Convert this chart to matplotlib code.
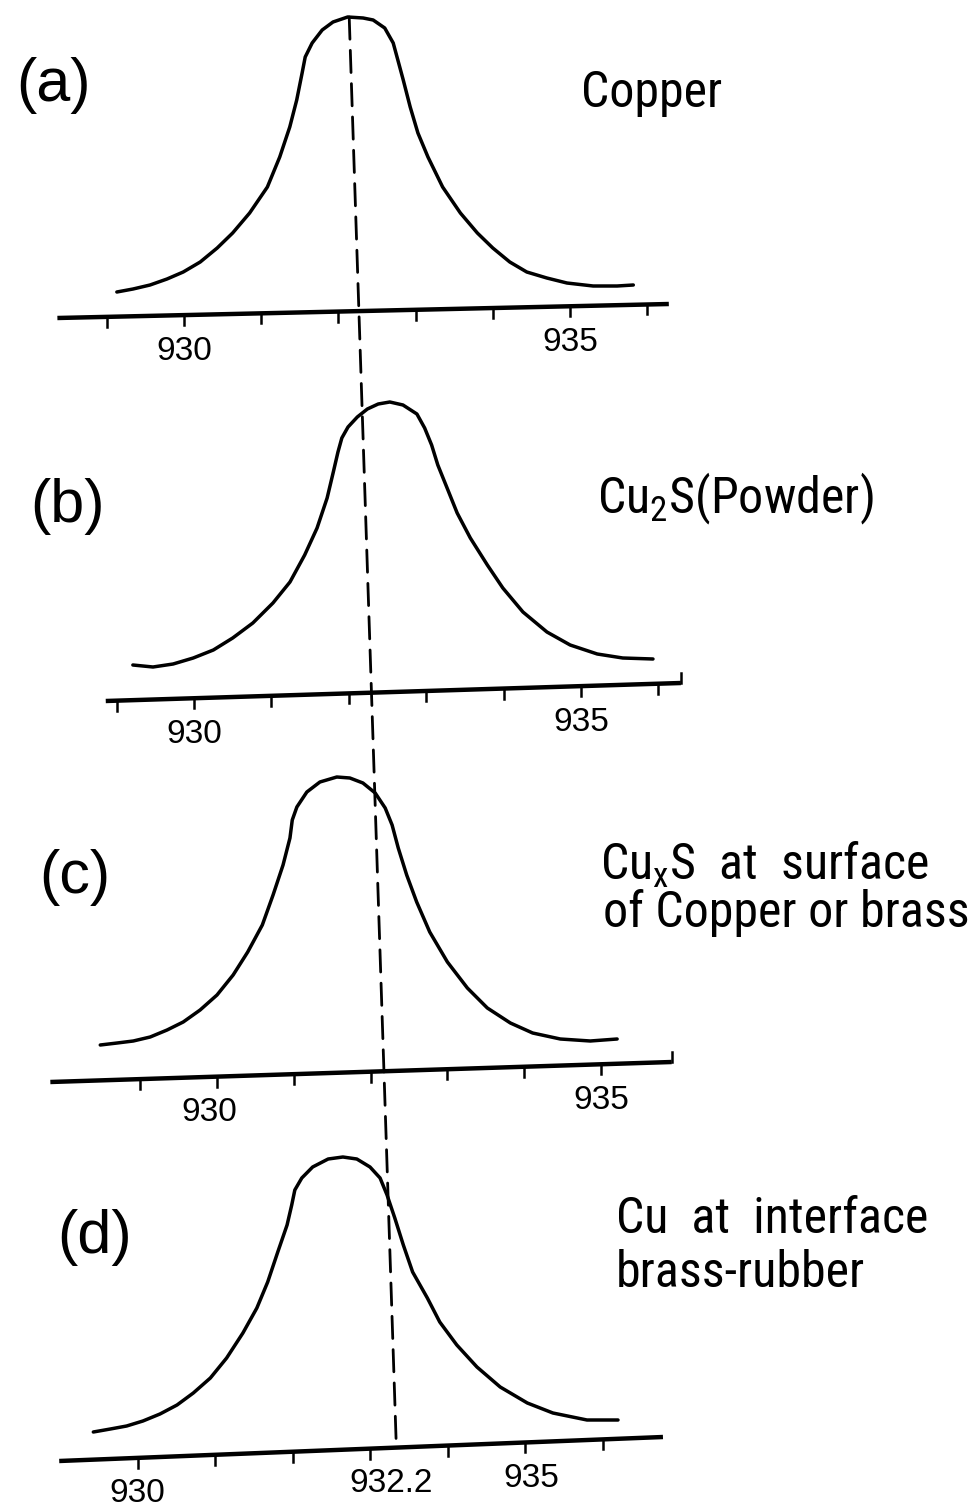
import numpy as np
import matplotlib
matplotlib.use('Agg')
import matplotlib.pyplot as plt
from matplotlib.patches import ConnectionPatch
from matplotlib import font_manager as fm

# Cu 2p3/2 peaks: binding energy (eV) and intensity (arb. units)
a_ev = [929.13, 929.34, 929.56, 929.78, 929.99, 930.21, 930.43, 930.63, 930.85, 931.08,
        931.24, 931.37, 931.46, 931.53, 931.57, 931.66, 931.79, 931.93, 932.12, 932.32,
        932.45, 932.60, 932.71, 932.77, 932.84, 932.93, 933.03, 933.16, 933.35, 933.58,
        933.80, 934.00, 934.22, 934.44, 934.70, 934.96, 935.30, 935.61, 935.82]
a_int = [88, 91, 95, 101, 108, 118, 132, 147, 167, 193,
         223, 253, 280, 307, 323, 337, 350, 358, 363, 362,
         360, 352, 337, 320, 300, 273, 247, 223, 193, 167,
         147, 132, 118, 108, 102, 97, 94, 94, 95]

b_ev = [929.21, 929.47, 929.73, 929.99, 930.25, 930.50, 930.76, 931.02, 931.24, 931.43,
        931.59, 931.72, 931.80, 931.86, 931.91, 931.99, 932.11, 932.24, 932.38, 932.53,
        932.70, 932.88, 932.98, 933.07, 933.15, 933.27, 933.40, 933.57, 933.79, 933.99,
        934.25, 934.56, 934.86, 935.21, 935.54, 935.93]
b_int = [95, 93, 96, 102, 110, 122, 137, 157, 178, 205,
         232, 262, 288, 308, 322, 333, 343, 351, 356, 358,
         355, 346, 332, 315, 295, 272, 247, 222, 195, 172,
         148, 128, 115, 106, 102, 101]

c_ev = [928.48, 928.70, 928.91, 929.13, 929.35, 929.56, 929.78, 930.00, 930.21, 930.40,
        930.59, 930.73, 930.86, 930.95, 930.98, 931.04, 931.17, 931.34, 931.56, 931.73,
        931.90, 932.06, 932.19, 932.28, 932.36, 932.47, 932.60, 932.77, 933.00, 933.26,
        933.52, 933.82, 934.11, 934.47, 934.86, 935.21]
c_int = [85, 87, 89, 93, 100, 108, 120, 135, 155, 178,
         205, 235, 265, 292, 310, 323, 338, 348, 353, 352,
         347, 337, 322, 305, 282, 255, 228, 198, 168, 142,
         122, 107, 97, 91, 89, 91]

d_ev = [929.43, 929.65, 929.86, 930.07, 930.29, 930.51, 930.72, 930.94, 931.15, 931.36,
        931.54, 931.68, 931.81, 931.93, 931.99, 932.03, 932.12, 932.26, 932.46, 932.65,
        932.83, 933.00, 933.13, 933.22, 933.32, 933.43, 933.55, 933.74, 933.90, 934.12,
        934.38, 934.68, 935.03, 935.36, 935.80, 936.20]
d_int = [77, 80, 83, 88, 95, 104, 116, 131, 151, 176,
         201, 227, 257, 284, 304, 319, 331, 342, 350, 352,
         350, 342, 331, 314, 291, 264, 237, 211, 187, 164,
         142, 122, 106, 96, 89, 89]

panel_tags = ['(a)', '(b)', '(c)', '(d)']
panel_names = [['Copper'],
               [r'Cu$_{\mathrm{2}}$S(Powder)'],
               [r'Cu$_{\mathrm{x}}$S  at  surface', 'of Copper or brass'],
               ['Cu  at  interface', 'brass-rubber']]

# hand drawn energy axis of each panel: ends (eV) and heights at the ends
axis_ev = [[928.36, 936.28], [928.86, 936.29], [927.83, 935.92], [928.99, 936.78]]
axis_base = [[62, 76], [59, 77], [48, 68], [48, 72]]
tick_ev = [[929, 930, 931, 932, 933, 934, 935, 936],
           [929, 930, 931, 932, 933, 934, 935, 936],
           [929, 930, 931, 932, 933, 934, 935],
           [930, 931, 932, 933, 934, 935, 936]]
tick_up_ev = [[], [936.29], [935.92], []]
label_ev = [[930, 935], [930, 935], [929.9, 935], [930, 933.27, 935.08]]
label_txt = [['930', '935'], ['930', '935'], ['930', '935'], ['930', '932.2', '935']]

# dashed reference line: top of peak (a) down to the axis of (d)
dash_top = (932.14, 363)
dash_bottom_ev = 933.34

curves = [(a_ev, a_int), (b_ev, b_int), (c_ev, c_int), (d_ev, d_int)]


def pick_narrow_font():
    fonts = fm.fontManager.ttflist
    names = {f.name for f in fonts}
    for n in ['Liberation Sans Narrow', 'Roboto Condensed', 'Open Sans Condensed',
              'Noto Sans Condensed', 'DejaVu Sans Condensed']:
        if n in names:
            return n, 'normal'
    for n in ['Noto Sans', 'DejaVu Sans', 'Open Sans', 'Roboto']:
        if any(f.name == n and f.stretch in ('condensed', 'semi-condensed') for f in fonts):
            return n, 'condensed'
    return ('Liberation Sans' if 'Liberation Sans' in names else 'DejaVu Sans'), 'normal'


narrow, stretch = pick_narrow_font()
plain = 'Liberation Sans' if any(f.name == 'Liberation Sans' for f in fm.fontManager.ttflist) else 'DejaVu Sans'
plt.rcParams['mathtext.fontset'] = 'custom'
plt.rcParams['mathtext.rm'] = narrow + (':stretch=condensed' if stretch == 'condensed' else '')

W, H = 973, 1509
fig = plt.figure(figsize=(W / 100, H / 100), dpi=100)
renderer = fig.canvas.get_renderer()

# layout in pixels: panel band (top, bottom), x pixel of 930 eV, pixels per eV
bands = [(0, 380), (380, 760), (760, 1130), (1130, 1509)]
x930 = [184, 194, 217, 137.5]
px_per_ev = [77.2, 77.4, 76.8, 77.5]
tag_pos = [(53, 86), (67, 507), (75, 878), (95, 1237)]
name_pos = [[(581, 107)], [(597, 513)], [(600, 880), (603, 927)], [(616, 1233), (616, 1287)]]

# one size for all the right-hand labels: the widest line must fit before the edge
probe = fig.text(0, 0, 'of Copper or brass', fontsize=38, family=narrow, stretch=stretch)
name_size = min(38, 38 * (W - 603 - 4) / probe.get_window_extent(renderer).width)
probe.remove()

axes = []
for i in range(4):
    top, bot = bands[i]
    ax = fig.add_axes([0, 1 - bot / H, 1, (bot - top) / H])
    ax.set_xlim(930 - x930[i] / px_per_ev[i], 930 + (W - x930[i]) / px_per_ev[i])
    ax.set_ylim(0, bot - top)
    ax.axis('off')
    axes.append(ax)

    ev, inten = curves[i]
    ax.plot(ev, inten, color='black', lw=2.5, solid_capstyle='round', solid_joinstyle='round')

    ax.plot(axis_ev[i], axis_base[i], color='black', lw=3.2, solid_capstyle='butt')
    for t in tick_ev[i]:
        y0 = np.interp(t, axis_ev[i], axis_base[i])
        ax.plot([t, t], [y0, y0 - 10], color='black', lw=1.8)
    for t in tick_up_ev[i]:
        y0 = np.interp(t, axis_ev[i], axis_base[i])
        ax.plot([t, t], [y0, y0 + 10], color='black', lw=1.8)
    for x, s in zip(label_ev[i], label_txt[i]):
        y0 = np.interp(x, axis_ev[i], axis_base[i])
        ax.text(x, y0 - 36, s, ha='center', va='center', fontsize=24, family=plain)

    fig.text(tag_pos[i][0] / W, 1 - tag_pos[i][1] / H, panel_tags[i],
             ha='center', va='center', fontsize=44, family=plain)
    for s, (x, y) in zip(panel_names[i], name_pos[i]):
        fig.text(x / W, 1 - y / H, s, ha='left', va='baseline', fontsize=name_size,
                 family=narrow, stretch=stretch)

dash_bottom = (dash_bottom_ev, np.interp(dash_bottom_ev, axis_ev[3], axis_base[3]))
con = ConnectionPatch(xyA=dash_top, coordsA=axes[0].transData,
                      xyB=dash_bottom, coordsB=axes[3].transData,
                      color='black', lw=2.0, linestyle=(0, (8, 4)))
fig.add_artist(con)

fig.savefig('out.png', dpi=100, facecolor='white')
